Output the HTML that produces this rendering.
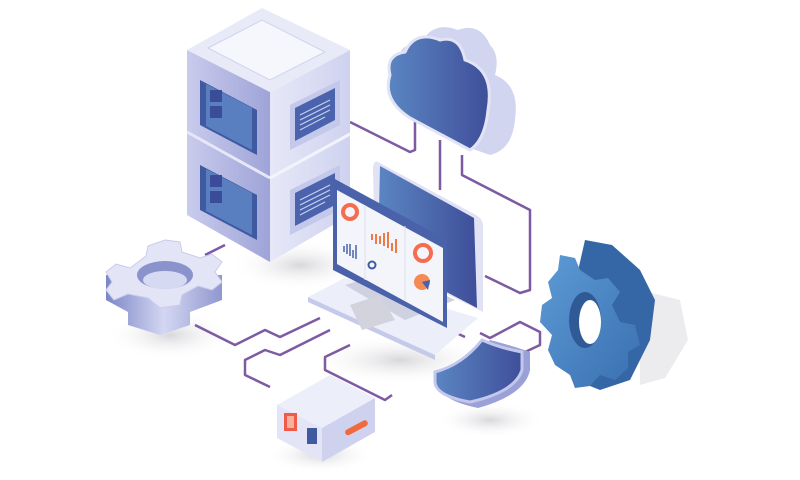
<!DOCTYPE html>
<html><head><meta charset="utf-8"><style>html,body{margin:0;padding:0;background:#fff;}svg{display:block}</style></head>
<body>
<svg width="800" height="480" viewBox="0 0 800 480" xmlns="http://www.w3.org/2000/svg">
<defs>
<linearGradient id="lf" x1="0" y1="0" x2="1" y2="0"><stop offset="0" stop-color="#c9cbec"/><stop offset="1" stop-color="#9ea4d8"/></linearGradient>
<linearGradient id="rf" x1="0" y1="0" x2="1" y2="0"><stop offset="0" stop-color="#e6e8f8"/><stop offset="1" stop-color="#cfd2ef"/></linearGradient>
<linearGradient id="db" x1="0" y1="0" x2="1" y2="0"><stop offset="0" stop-color="#5b86c2"/><stop offset="1" stop-color="#3f4e9a"/></linearGradient>
<linearGradient id="bg" x1="0" y1="0" x2="1" y2="1"><stop offset="0" stop-color="#5d9bd6"/><stop offset="1" stop-color="#3a6fb0"/></linearGradient>
<linearGradient id="gl" x1="0" y1="0" x2="1" y2="0"><stop offset="0" stop-color="#7b86c6"/><stop offset=".5" stop-color="#d4d7f2"/><stop offset="1" stop-color="#8f97cf"/></linearGradient>
<radialGradient id="sh"><stop offset="0" stop-color="#d8d8dc"/><stop offset="1" stop-color="#fff" stop-opacity="0"/></radialGradient>
</defs>
<!-- shadows -->
<ellipse cx="300" cy="265" rx="70" ry="25" fill="url(#sh)"/>
<ellipse cx="170" cy="335" rx="65" ry="25" fill="url(#sh)"/>
<ellipse cx="400" cy="360" rx="90" ry="25" fill="url(#sh)"/>
<ellipse cx="320" cy="455" rx="55" ry="18" fill="url(#sh)"/>
<ellipse cx="490" cy="420" rx="55" ry="18" fill="url(#sh)"/>
<path d="M640 290 L680 300 L688 340 L665 378 L640 385 Z" fill="#ececef"/>
<!-- connector lines -->
<g fill="none" stroke="#7d5aa2" stroke-width="2.5" stroke-linejoin="round">
<path d="M350 122 L410 152 L415 150 L415 120"/>
<path d="M440 140 L440 190"/>
<path d="M462 155 L462 175 L530 210 L530 290 L520 293 L485 276"/>
<path d="M225 245 L205 255"/>
<path d="M195 325 L235 345 L265 330 L280 337 L320 318"/>
<path d="M330 330 L280 355 L265 350 L245 360 L245 375 L270 387"/>
<path d="M350 345 L325 357 L325 370 L385 400 L392 395"/>
<path d="M430 333 L440 338 L450 330 L465 337"/>
<path d="M480 333 L490 338 L520 322 L540 332 L540 345 L525 352"/>
</g>
<!-- server stack -->
<polygon points="187,50 270,92 270,262 187,215" fill="url(#lf)"/>
<polygon points="270,92 350,50 350,215 270,262" fill="url(#rf)"/>
<polygon points="187,50 262,8 350,50 270,92" fill="#e9eaf8"/>
<polygon points="208,48 262,20 325,52 270,80" fill="#f6f6fd" stroke="#d0d3ef"/>
<line x1="187" y1="132" x2="270" y2="178" stroke="#e6e7f7" stroke-width="3"/>
<line x1="270" y1="178" x2="350" y2="134" stroke="#f2f3fb" stroke-width="3"/>
<polygon points="200,80 257,110 257,155 200,125" fill="#3f5aa0"/>
<polygon points="206,84 252,108 252,150 206,126" fill="#5a7fc0"/>
<polygon points="200,165 257,195 257,240 200,210" fill="#3f5aa0"/>
<polygon points="206,169 252,193 252,235 206,211" fill="#5a7fc0"/>
<g fill="#3b4d98"><rect x="210" y="90" width="12" height="12"/><rect x="210" y="106" width="12" height="12"/><rect x="210" y="175" width="12" height="12"/><rect x="210" y="191" width="12" height="12"/></g>
<polygon points="290,105 340,80 340,125 290,150" fill="#c4c8ea"/>
<polygon points="295,108 335,88 335,120 295,141" fill="#4b63ad"/>
<polygon points="290,190 340,165 340,210 290,235" fill="#c4c8ea"/>
<polygon points="295,193 335,173 335,205 295,226" fill="#4b63ad"/>
<g stroke="#c9d4f2" stroke-width="1"><path d="M300 115 L330 100 M300 120 L330 105 M300 125 L330 110 M300 130 L325 117"/><path d="M300 200 L330 185 M300 205 L330 190 M300 210 L330 195 M300 215 L325 202"/></g>
<!-- cloud -->
<path d="M398 60 Q400 42 420 45 Q432 20 458 30 Q480 22 490 45 Q500 55 495 75 Q520 85 515 120 Q512 150 490 155 L470 148 Z" fill="#d2d5f0"/>
<path d="M390 75 Q385 55 405 52 Q415 30 440 40 Q460 35 465 60 Q495 70 488 110 Q485 140 470 150 L410 118 Q382 100 390 75 Z" fill="url(#db)" stroke="#e2e4f6" stroke-width="3"/>
<!-- laptop -->
<path d="M378 162 L476 215 Q483 219 483 226 L483 312 L375 258 L373 170 Q373 160 378 162 Z" fill="#e1e3f5"/>
<path d="M380 166 L474 218 L477 308 L378 256 Z" fill="url(#db)"/>
<polygon points="308,297 345,278 478,318 435,355" fill="#eceef9"/>
<polygon points="308,297 435,355 435,360 308,302" fill="#c6caea"/>
<polygon points="345,285 395,270 455,300 405,320" fill="#cfd1e0"/>
<polygon points="350,305 380,295 395,320 362,330" fill="#d2d3dc"/>
<polygon points="333,178 447,240 447,328 333,270" fill="#4a62aa"/>
<polygon points="337,190 443,248 443,322 337,264" fill="#f4f5fb"/>
<line x1="365" y1="205" x2="365" y2="280" stroke="#dcdfee"/><line x1="405" y1="226" x2="405" y2="300" stroke="#dcdfee"/>
<circle cx="350" cy="212" r="7" fill="none" stroke="#f36d4e" stroke-width="4"/>
<circle cx="423" cy="253" r="8" fill="none" stroke="#f36d4e" stroke-width="4"/>
<circle cx="422" cy="282" r="8" fill="#f58a52"/>
<path d="M422 282 L430 280 L428 290 Z" fill="#4a62aa"/>
<circle cx="372" cy="265" r="3.5" fill="none" stroke="#3f5aa0" stroke-width="2"/>
<g stroke="#f07a45" stroke-width="2"><path d="M372 240v-6M376 244v-10M380 244v-8M384 246v-13M388 248v-16M392 251v-8M396 253v-14"/></g>
<g stroke="#4a62aa" stroke-width="1.5"><path d="M344 252v-6M347 254v-10M350 256v-12M353 258v-8M356 259v-14"/></g>
<!-- left gear -->
<g>
<path d="M106 275 L106 300 L128 312 L128 325 L160 335 L190 325 L190 312 L222 300 L222 275 Z" fill="url(#gl)"/>
<path d="M165 240 L180 242 L182 252 L200 258 L212 254 L222 262 L215 272 L222 282 L212 290 L198 286 L182 295 L180 305 L160 308 L148 298 L128 294 L114 300 L106 290 L112 282 L106 272 L116 264 L130 268 L146 256 L148 246 Z" fill="#e3e5f7" stroke="#c8cbec"/>
<ellipse cx="165" cy="275" rx="28" ry="14" fill="#8b93cd"/>
<ellipse cx="165" cy="280" rx="22" ry="9" fill="#d6d9f2"/>
</g>
<!-- right gear -->
<g>
<path d="M585 240 L612 245 L640 270 L655 300 L650 340 L630 380 L600 390 L575 380 L560 350 Z" fill="#3566a6"/>
<path d="M560 255 L575 258 L580 270 L595 280 L608 278 L620 292 L612 305 L620 322 L635 325 L640 345 L628 352 L628 368 L615 380 L600 375 L590 386 L575 388 L570 375 L555 365 L548 350 L552 335 L540 322 L542 305 L552 298 L548 282 L558 270 Z" fill="url(#bg)"/>
<ellipse cx="585" cy="320" rx="16" ry="28" fill="#2f5a95"/>
<ellipse cx="590" cy="322" rx="11" ry="22" fill="#fff"/>
</g>
<!-- shield -->
<path d="M440 370 Q470 365 490 340 Q510 345 530 352 L530 370 Q525 395 478 408 Q440 400 440 385 Z" fill="#9aa1d6"/>
<path d="M435 372 Q462 365 482 340 Q500 348 522 352 L522 370 Q515 392 470 402 Q436 396 435 382 Z" fill="url(#db)" stroke="#c3c7ec" stroke-width="3"/>
<!-- box -->
<polygon points="277,405 330,375 375,398 322,428" fill="#eceef9"/>
<polygon points="277,405 322,428 322,462 277,438" fill="#e3e5f6"/>
<polygon points="322,428 375,398 375,432 322,462" fill="#cfd2ee"/>
<rect x="284" y="413" width="13" height="18" fill="#f05a48"/>
<rect x="287" y="416" width="7" height="12" fill="#f9b09a"/>
<g fill="#3f5aa0"><rect x="307" y="428" width="10" height="16"/></g>
<rect x="344" y="425" width="25" height="6" rx="3" fill="#f06a3e" transform="rotate(-28 356 428)"/>
</svg>
</body></html>
